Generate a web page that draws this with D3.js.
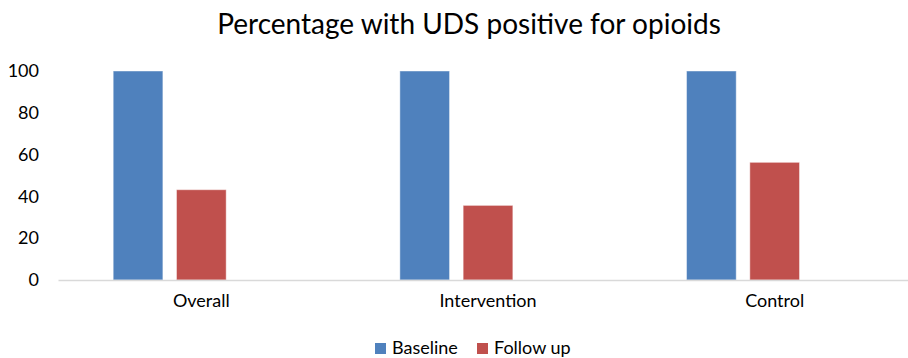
<!DOCTYPE html>
<html>
<head>
<meta charset="utf-8">
<script src="https://cdn.jsdelivr.net/npm/d3@7"></script>
<style>
  html, body { margin: 0; padding: 0; background: #fff; }
  svg { display: block; font-family: Lato, "Open Sans", sans-serif; }
</style>
</head>
<body>
<svg id="chart" width="908" height="358"></svg>
<script>
// Chart data
const categories = ["Overall", "Intervention", "Control"];
const seriesNames = ["Baseline", "Follow up"];
const baselineValues = [100, 100, 100];
const followUpValues = [43.2, 35.7, 56.3];
const yTicks = [0, 20, 40, 60, 80, 100];
const titleText = "Percentage with UDS positive for opioids";

const colors = { "Baseline": "#4F81BD", "Follow up": "#C0504D" };

const width = 908, height = 358;
const margin = { top: 71, right: -10, bottom: 78, left: 58 };

const svg = d3.select("#chart");

const x0 = d3.scaleBand()
  .domain(categories)
  .range([margin.left, width - margin.right])
  .paddingInner(0)
  .paddingOuter(0);

// three slots per category; the third stays empty, which keeps the pair left of centre
const slots = [...seriesNames, "_"];
const x1 = d3.scaleBand()
  .domain(slots)
  .range([0, x0.bandwidth()])
  .paddingInner(0.215)
  .paddingOuter(0.872);

const y = d3.scaleLinear()
  .domain([0, 100])
  .range([height - margin.bottom, margin.top]);

const rows = categories.map((c, i) => ({
  category: c,
  values: [
    { series: "Baseline", value: baselineValues[i] },
    { series: "Follow up", value: followUpValues[i] }
  ]
}));

// Title
svg.append("text")
  .attr("x", 469)
  .attr("y", 34)
  .attr("text-anchor", "middle")
  .attr("font-size", 28)
  .attr("fill", "#000")
  .text(titleText);

// Y axis labels (no axis line)
const yAxis = d3.axisLeft(y).tickValues(yTicks).tickSize(0).tickPadding(0);
const gy = svg.append("g")
  .attr("transform", `translate(${margin.left - 19},0)`)
  .call(yAxis);
gy.select(".domain").remove();
gy.selectAll("text")
  .attr("font-size", 18)
  .attr("font-family", "Lato, 'Open Sans', sans-serif")
  .attr("fill", "#000");

// Bars
const groups = svg.append("g")
  .selectAll("g")
  .data(rows)
  .join("g")
  .attr("transform", d => `translate(${x0(d.category)},0)`);

groups.selectAll("rect")
  .data(d => d.values)
  .join("rect")
  .attr("x", d => x1(d.series))
  .attr("width", x1.bandwidth())
  .attr("y", d => y(d.value))
  .attr("height", d => y(0) - y(d.value))
  .attr("fill", d => colors[d.series])
  .attr("stroke", "rgba(255,255,255,0.45)")
  .attr("stroke-width", 1);

// X axis (baseline line + category labels)
const xAxis = d3.axisBottom(x0).tickSize(0).tickPadding(14);
const gx = svg.append("g")
  .attr("transform", `translate(0,${y(0)})`)
  .call(xAxis);
gx.select(".domain").attr("stroke", "#D9D9D9").attr("stroke-width", 1.3);
gx.selectAll("text")
  .attr("font-size", 18)
  .attr("font-family", "Lato, 'Open Sans', sans-serif")
  .attr("fill", "#000");

// Legend
const legend = svg.append("g").attr("transform", "translate(375,343)");
const legendOffsets = [0, 102];
const items = legend.selectAll("g")
  .data(seriesNames)
  .join("g")
  .attr("transform", (d, i) => `translate(${legendOffsets[i]},0)`);
items.append("rect")
  .attr("width", 11)
  .attr("height", 11)
  .attr("fill", d => colors[d]);
items.append("text")
  .attr("x", 17)
  .attr("y", 11)
  .attr("font-size", 18)
  .attr("fill", "#000")
  .text(d => d);
</script>
</body>
</html>
